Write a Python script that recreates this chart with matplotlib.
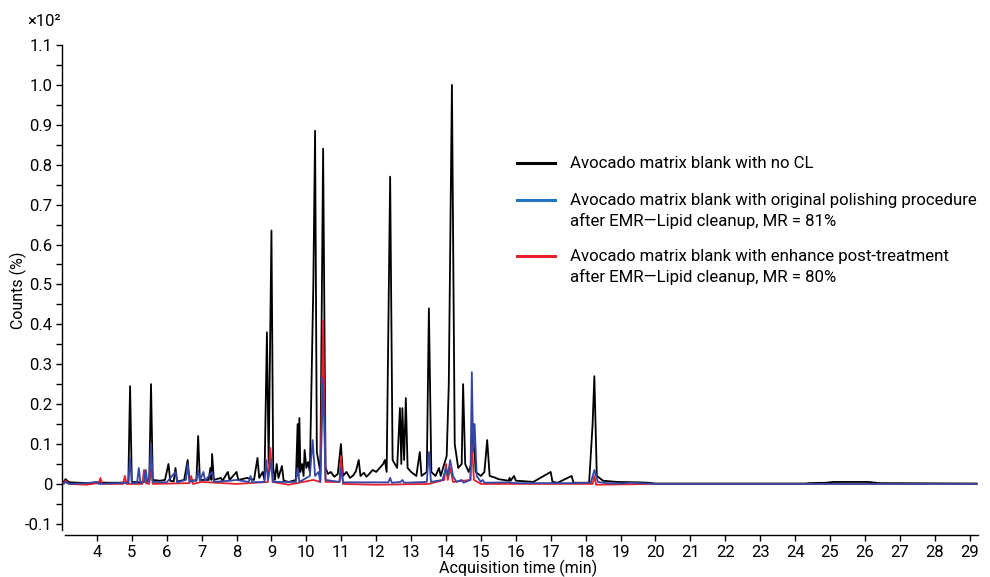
import matplotlib
matplotlib.use("Agg")
import matplotlib.pyplot as plt
from matplotlib.lines import Line2D
import numpy as np

plt.rcParams['font.family'] = ['Roboto', 'DejaVu Sans']

# ---- data ----
black_t = [3.05, 3.1, 3.2, 3.5, 3.8, 4.0, 4.3, 4.6, 4.9, 4.95, 5.0, 5.3, 5.5, 5.55, 5.6, 5.8, 5.95, 6.05, 6.1,
           6.2, 6.25, 6.3, 6.5, 6.6, 6.65, 6.85, 6.9, 6.95, 7.2, 7.25, 7.28, 7.3, 7.35, 7.55, 7.6, 7.75, 7.8,
           8.0, 8.05, 8.3, 8.5, 8.6, 8.65, 8.75, 8.8, 8.87, 8.92, 9.0, 9.05, 9.1, 9.15, 9.2, 9.3, 9.35, 9.5,
           9.7, 9.75, 9.77, 9.8, 9.83, 9.88, 9.92, 9.95, 10.0, 10.05, 10.1, 10.2, 10.25, 10.3, 10.4, 10.48,
           10.55, 10.62, 10.7, 10.8, 10.9, 10.99, 11.05, 11.15, 11.25, 11.35, 11.42, 11.5, 11.55, 11.65, 11.72,
           11.8, 11.9, 12.0, 12.1, 12.2, 12.25, 12.3, 12.4, 12.47,
           12.6, 12.68, 12.72, 12.75, 12.8, 12.85, 12.9, 13.0, 13.15, 13.25, 13.3, 13.45, 13.51, 13.58, 13.7,
           13.8, 13.85, 13.95, 14.02, 14.08, 14.17, 14.25, 14.35, 14.45, 14.49, 14.55, 14.65, 14.72, 14.77,
           14.85, 15.0, 15.1, 15.18, 15.25, 15.4, 15.5, 15.65, 15.8, 15.82, 15.85, 15.95, 16.0, 16.2, 16.5,
           17.0, 17.05, 17.2,
           17.6, 17.65, 18.1, 18.2, 18.25, 18.32, 18.5, 18.9, 19.5, 19.8, 20.0, 24.3, 24.4, 24.9, 25.0, 25.1,
           26.1, 26.4, 28.7, 29.2]
black_y = [0.005, 0.012, 0.004, 0.003, 0.002, 0.004, 0.003, 0.003, 0.004, 0.245, 0.005, 0.004, 0.01, 0.25, 0.01,
           0.008, 0.01, 0.05, 0.008, 0.006, 0.04, 0.006, 0.01, 0.06, 0.01, 0.008, 0.12, 0.01, 0.01, 0.04, 0.01,
           0.075, 0.01, 0.015, 0.008, 0.03, 0.01, 0.03, 0.01, 0.015, 0.01, 0.065, 0.015, 0.03, 0.01, 0.38,
           0.05, 0.635, 0.04, 0.01, 0.05, 0.015, 0.045, 0.008, 0.005, 0.01, 0.15, 0.02, 0.165, 0.03, 0.05,
           0.02, 0.085, 0.04, 0.055, 0.03, 0.5, 0.885, 0.08, 0.03, 0.84,
           0.04, 0.025, 0.03, 0.018, 0.025, 0.10, 0.02, 0.03, 0.015, 0.022, 0.032, 0.06, 0.02, 0.028, 0.018,
           0.025, 0.035, 0.03, 0.04, 0.05, 0.06, 0.03, 0.77, 0.06,
           0.04, 0.19, 0.05, 0.19, 0.06, 0.215, 0.04,
           0.03, 0.02, 0.08, 0.02, 0.03, 0.44, 0.03, 0.02, 0.04, 0.02, 0.05, 0.07, 0.25, 1.0, 0.1, 0.04, 0.05,
           0.25, 0.05, 0.03, 0.05, 0.15, 0.03, 0.02, 0.03, 0.11, 0.02, 0.016, 0.012, 0.01, 0.008, 0.015, 0.008,
           0.02, 0.008, 0.007, 0.005, 0.03, 0.005, 0.003, 0.02, 0.003, 0.003, 0.15, 0.27, 0.02, 0.008, 0.005,
           0.004, 0.003, 0.001, 0.001, 0.002, 0.003, 0.004, 0.005, 0.005, 0.002, 0.001, 0.001]

blue_t = [3.05, 3.1, 3.2, 3.7, 4.0, 4.05, 4.6, 4.9, 4.95, 5.0, 5.15, 5.2, 5.25, 5.35, 5.4, 5.45, 5.5, 5.55, 5.6,
          6.0, 6.25, 6.3, 6.55, 6.6, 6.65, 6.85, 6.9, 6.95, 7.05, 7.1, 7.3, 7.35, 7.8, 8.0, 8.35, 8.4, 8.45,
          8.8, 8.85, 8.9, 9.0, 9.05, 9.7, 9.75, 9.8, 10.1, 10.18, 10.25, 10.35, 10.4, 10.48, 10.55, 10.95,
          10.99, 11.05, 12.35, 12.4, 12.45, 12.7, 12.75, 12.8, 13.45, 13.51, 13.57, 13.9, 14.0, 14.05, 14.12,
          14.2, 14.3, 14.45, 14.5, 14.7, 14.74, 14.78, 14.82, 14.88, 15.0, 15.05, 15.1, 15.8, 16.0, 17.6,
          18.15, 18.25, 18.35, 18.6, 19.0, 19.3, 20.0, 29.2]
blue_y = [0.0, 0.005, 0.0, 0.002, 0.005, 0.0, 0.002, 0.003, 0.065, 0.002, 0.002, 0.04, 0.002, 0.005, 0.035,
          0.003, 0.01, 0.1, 0.005, 0.004, 0.03, 0.004, 0.01, 0.05, 0.005, 0.01, 0.035, 0.008, 0.03, 0.008,
          0.03, 0.005, 0.008, 0.01, 0.005, 0.02, 0.004, 0.005, 0.06, 0.01, 0.06, 0.005, 0.005, 0.04, 0.005,
          0.02, 0.11, 0.02, 0.03, 0.005, 0.265, 0.01, 0.005, 0.04, 0.004, 0.004, 0.015, 0.003, 0.005, 0.01,
          0.003, 0.005, 0.08, 0.005, 0.01, 0.04, 0.02, 0.06, 0.02, 0.005, 0.01, 0.003, 0.01, 0.28, 0.08,
          0.15, 0.02, 0.005, 0.01, 0.003, 0.004, 0.002, 0.002, 0.003, 0.035, 0.005, 0.002, 0.001, 0.003,
          0.0, 0.0]

red_t = [3.05, 3.1, 3.2, 3.7, 4.05, 4.1, 4.15, 4.75, 4.8, 4.85, 5.3, 5.35, 5.4, 5.5, 5.55, 5.6, 6.65, 6.7, 6.75,
         7.0, 8.0, 8.9, 8.97, 9.03, 9.5, 10.2, 10.4, 10.48, 10.55, 10.95, 10.99, 11.05, 12.0, 13.5, 13.95,
         14.0, 14.05, 14.12, 14.2, 14.7, 14.74, 14.8, 15.0, 18.2, 18.25, 18.3, 20.0, 29.2]
red_y = [0.002, 0.008, 0.0, -0.002, 0.002, 0.015, 0.0, 0.0, 0.02, 0.0, 0.0, 0.035, 0.002, 0.0, 0.04, 0.0, 0.002,
         0.02, 0.0, 0.005, 0.0, 0.005, 0.09, 0.005, -0.002, 0.01, 0.005, 0.41, 0.005, 0.005, 0.07, 0.0, -0.002,
         0.0, 0.01, 0.05, 0.01, 0.04, 0.005, 0.01, 0.1, 0.01, 0.0, 0.0, 0.02, -0.002, 0.0, 0.0]

legend_labels = ["Avocado matrix blank with no CL",
                 "Avocado matrix blank with original polishing procedure\nafter EMR\u2014Lipid cleanup, MR = 81%",
                 "Avocado matrix blank with enhance post-treatment\nafter EMR\u2014Lipid cleanup, MR = 80%"]
y_ticks = [-0.1, 0, 0.1, 0.2, 0.3, 0.4, 0.5, 0.6, 0.7, 0.8, 0.9, 1.0, 1.1]
y_tick_labels = ["-0.1", "0", "0.1", "0.2", "0.3", "0.4", "0.5", "0.6", "0.7", "0.8", "0.9", "1.0", "1.1"]
x_ticks = list(range(4, 30))

# ---- plot ----
fig = plt.figure(figsize=(9.9, 5.77), dpi=100)
ax = fig.add_axes([62 / 990, 1 - 535 / 577, (978 - 62) / 990, (535 - 45) / 577])

col_black = "#000000"
col_blue_trace = "#3446a6"
col_red = "#e8202a"
ax.plot(black_t, black_y, color=col_black, lw=1.3, zorder=2)
ax.plot(red_t, red_y, color=col_red, lw=1.3, zorder=3)
ax.plot(blue_t, blue_y, color=col_blue_trace, lw=1.3, zorder=4)

ax.set_xlim(3.0, 29.24)
ax.set_ylim(-0.128, 1.1)
for s in ["top", "right"]:
    ax.spines[s].set_visible(False)
ax.spines["left"].set_bounds(-0.115, 1.1)
ax.spines["bottom"].set_bounds(3.08, 29.24)
ax.spines["left"].set_linewidth(1.0)
ax.spines["bottom"].set_linewidth(1.0)

ax.set_yticks(y_ticks)
ax.set_yticklabels(y_tick_labels)
ax.set_yticks(np.arange(-0.1, 1.11, 0.05), minor=True)
ax.set_xticks(x_ticks)
ax.set_xticklabels([str(v) for v in x_ticks])
ax.tick_params(axis="both", which="both", direction="out", length=4, width=1.0, labelsize=12, pad=3)
ax.tick_params(axis="y", which="minor", length=4, width=1.0)

ax.set_ylabel("Counts (%)", fontsize=11.5)
ax.yaxis.set_label_coords(-35 / 916, 0.5)
ax.set_xlabel("Acquisition time (min)", fontsize=11.5)
ax.xaxis.set_label_coords(0.5 - 2 / 916, -25 / 490)
fig.text(27 / 990, 1 - 21 / 577, "\u00d710\u00b2", fontsize=12, va="center", ha="left")

# legend (manual)
leg_cols = ["#000000", "#1f74c4", col_red]
leg_y = [163, 200, 256]
for c, yy, lab in zip(leg_cols, leg_y, legend_labels):
    fig.add_artist(Line2D([517 / 990, 555 / 990], [1 - yy / 577, 1 - yy / 577], color=c, lw=2.2))
    fig.text(570 / 990, 1 - (yy - 7) / 577, lab, fontsize=12.1, va="top", ha="left", linespacing=1.35)

fig.savefig("out.png", dpi=100)
